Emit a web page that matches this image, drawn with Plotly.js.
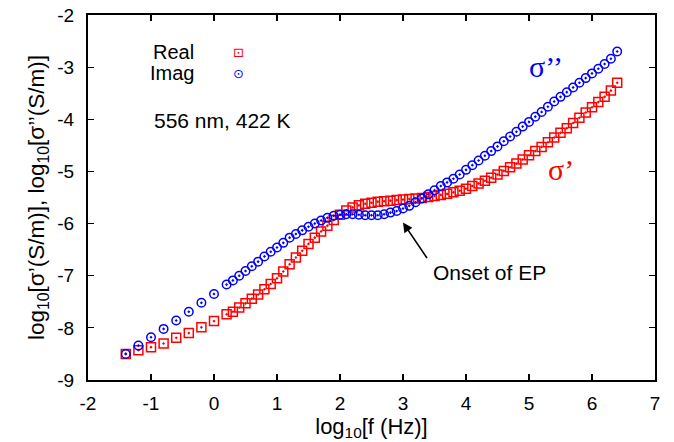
<!DOCTYPE html>
<html>
<head>
<meta charset="utf-8">
<script src="https://cdn.plot.ly/plotly-3.0.1.min.js"></script>
<style>
html,body{margin:0;padding:0;background:#fff;}
#chart{width:674px;height:442px;}
</style>
</head>
<body>
<div id="chart"></div>
<script>
// log10 of frequency (Hz)
const logFreq = [-1.4,-1.2,-1.0,-0.8,-0.6,-0.4,-0.2,0.0,0.2,
  0.3,0.4,0.5,0.6,0.7,0.8,0.9,1.0,1.1,1.2,1.3,1.4,1.5,1.6,1.7,1.8,1.9,2.0,
  2.1,2.2,2.3,2.4,2.5,2.6,2.7,2.8,2.9,3.0,3.1,3.2,3.3,3.4,3.5,3.6,3.7,3.8,3.9,4.0,
  4.1,4.2,4.3,4.4,4.5,4.6,4.7,4.8,4.9,5.0,5.1,5.2,5.3,5.4,5.5,5.6,5.7,5.8,5.9,6.0,
  6.1,6.2,6.3,6.4];
// log10 sigma' (real part)
const realSigma = [-8.50,-8.43,-8.37,-8.30,-8.19,-8.10,-7.99,-7.87,-7.74,
  -7.69,-7.61,-7.53,-7.44,-7.36,-7.26,-7.16,-7.05,-6.92,-6.78,-6.65,-6.52,-6.39,-6.27,-6.15,-6.04,-5.93,-5.83,
  -5.75,-5.69,-5.65,-5.62,-5.60,-5.58,-5.57,-5.56,-5.55,-5.54,-5.53,-5.52,-5.51,-5.49,-5.47,-5.45,-5.43,-5.40,-5.37,-5.33,
  -5.28,-5.23,-5.18,-5.12,-5.06,-4.99,-4.92,-4.85,-4.77,-4.69,-4.61,-4.53,-4.44,-4.35,-4.26,-4.17,-4.07,-3.97,-3.87,-3.77,
  -3.67,-3.57,-3.45,-3.30];
// log10 sigma'' (imaginary part)
const imagSigma = [-8.50,-8.34,-8.18,-8.02,-7.86,-7.69,-7.52,-7.35,-7.17,
  -7.09,-7.00,-6.91,-6.82,-6.73,-6.63,-6.54,-6.46,-6.37,-6.27,-6.20,-6.13,-6.06,-6.00,-5.94,-5.89,-5.85,-5.83,
  -5.82,-5.82,-5.83,-5.84,-5.84,-5.84,-5.82,-5.79,-5.76,-5.71,-5.66,-5.59,-5.52,-5.44,-5.36,-5.28,-5.21,-5.14,-5.06,-4.97,
  -4.88,-4.79,-4.70,-4.61,-4.52,-4.42,-4.33,-4.24,-4.14,-4.05,-3.95,-3.86,-3.76,-3.66,-3.57,-3.48,-3.39,-3.30,-3.21,-3.12,
  -3.03,-2.94,-2.84,-2.70];

const xTicks = [-2,-1,0,1,2,3,4,5,6,7];
const yTicks = [-9,-8,-7,-6,-5,-4,-3,-2];

const FONT = 'Liberation Sans, Arial, Helvetica, sans-serif';

const traces = [
  {x: logFreq, y: realSigma, type:'scatter', mode:'markers', name:'Real',
   marker:{symbol:'square-open-dot', size:9, color:'#ff0000', line:{width:1.5, color:'#ff0000'}}},
  {x: logFreq, y: imagSigma, type:'scatter', mode:'markers', name:'Imag',
   marker:{symbol:'circle-open-dot', size:8.5, color:'#0000ff', line:{width:1.5, color:'#0000ff'}}}
];

function P(px){return (px-88)/567;}
function Q(py){return 1-(py-15)/365;}

const layout = {
  width:674, height:442,
  margin:{l:88, r:19, t:15, b:62},
  paper_bgcolor:'#fff', plot_bgcolor:'#fff',
  showlegend:false,
  font:{family:FONT, size:19, color:'#000'},
  xaxis:{range:[-2,7], tickvals:xTicks, ticktext:xTicks.map(String), ticks:'inside', ticklen:6, tickwidth:1.2,
    tickcolor:'#000', showline:true, linewidth:2, linecolor:'#000', mirror:'ticks', showgrid:false, zeroline:false,
    ticklabelstandoff:5,
    title:{text:'log<sub>10</sub>[f (Hz)]', font:{size:22, family:FONT}, standoff:4}},
  yaxis:{range:[-9,-2], tickvals:yTicks, ticktext:yTicks.map(String), ticks:'inside', ticklen:6, tickwidth:1.2,
    tickcolor:'#000', showline:true, linewidth:2, linecolor:'#000', mirror:'ticks', showgrid:false, zeroline:false,
    ticklabelstandoff:8,
    title:{text:'log<sub>10</sub>[σ’(S/m)], log<sub>10</sub>[σ’’(S/m)]', font:{size:22.5, family:FONT}, standoff:6}},
  annotations:[
    {xref:'paper', yref:'paper', x:P(196), y:Q(52), xanchor:'right', yanchor:'middle', text:'Real', showarrow:false, font:{size:20, family:FONT}},
    {xref:'paper', yref:'paper', x:P(196), y:Q(73), xanchor:'right', yanchor:'middle', text:'Imag', showarrow:false, font:{size:20, family:FONT}},
    {xref:'paper', yref:'paper', x:P(238), y:Q(52), xanchor:'center', yanchor:'middle', text:'⊡', showarrow:false, font:{size:13, family:'DejaVu Sans', color:'#ff0000'}},
    {xref:'paper', yref:'paper', x:P(238), y:Q(73), xanchor:'center', yanchor:'middle', text:'⊙', showarrow:false, font:{size:13, family:'DejaVu Sans', color:'#0000ff'}},
    {xref:'paper', yref:'paper', x:P(152), y:Q(120), xanchor:'left', yanchor:'middle', text:'556 nm, 422 K', showarrow:false, font:{size:21, family:FONT}},
    {xref:'x', yref:'y', x:4.38, y:-6.94, text:'Onset of EP', showarrow:false, font:{size:21, family:FONT}},
    {xref:'x', yref:'y', x:3.0, y:-5.98, ax:25, ay:37, text:'', showarrow:true, arrowhead:2, arrowsize:1.2, arrowwidth:1.6, arrowcolor:'#000'},
    {xref:'paper', yref:'paper', x:P(546), y:Q(67), xanchor:'center', yanchor:'middle', text:'σ’’', showarrow:false, font:{size:30, family:'Liberation Serif, Times New Roman, serif', color:'#0000ff'}},
    {xref:'paper', yref:'paper', x:P(561), y:Q(169), xanchor:'center', yanchor:'middle', text:'σ’', showarrow:false, font:{size:30, family:'Liberation Serif, Times New Roman, serif', color:'#ff0000'}}
  ]
};

Plotly.newPlot('chart', traces, layout, {staticPlot:true, displayModeBar:false});
</script>
</body>
</html>
